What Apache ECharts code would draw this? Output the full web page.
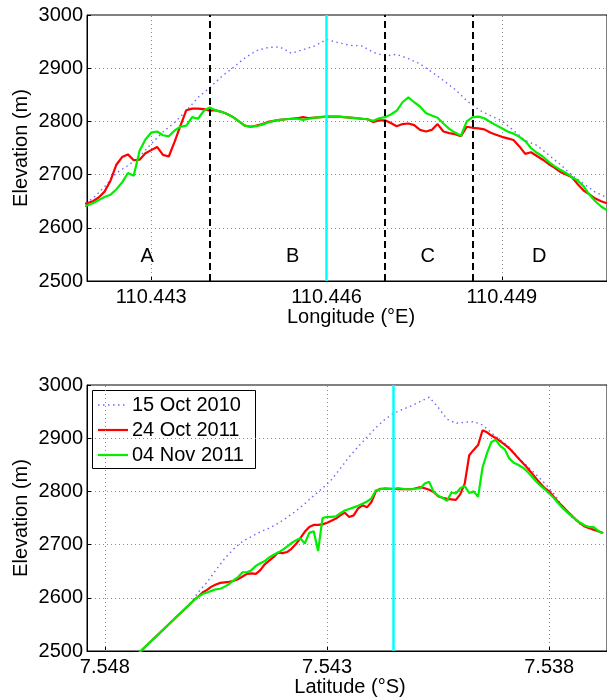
<!DOCTYPE html>
<html>
<head>
<meta charset="utf-8">
<script src="https://cdn.jsdelivr.net/npm/echarts@6/dist/echarts.min.js"></script>
<style>
  html, body { margin: 0; padding: 0; background: #fff; }
  #chart { width: 607px; height: 700px; }
</style>
</head>
<body>
<div id="chart"></div>
<script>
// ---- Elevation profiles across the summit ----
const seriesNames = ['15 Oct 2010', '24 Oct 2011', '04 Nov 2011'];

// Longitude profile (top panel)
const topLon = [
  110.4418,110.4419,110.4420,110.4421,110.4422,110.4423,110.4424,110.4425,110.4426,110.4427,
  110.4428,110.4429,110.4430,110.4431,110.4432,110.4433,110.4434,110.4435,110.4436,110.4437,
  110.4438,110.4439,110.4440,110.4441,110.4442,110.4443,110.4444,110.4445,110.4446,110.4447,
  110.4448,110.4449,110.4450,110.4451,110.4452,110.4453,110.4454,110.4455,110.4456,110.4457,
  110.4458,110.4459,110.4460,110.4461,110.4462,110.4463,110.4464,110.4465,110.4466,110.4467,
  110.4468,110.4469,110.4470,110.4471,110.4472,110.4473,110.4474,110.4475,110.4476,110.4477,
  110.4478,110.4479,110.4480,110.4481,110.4482,110.4483,110.4484,110.4485,110.4486,110.4487,
  110.4488,110.4489,110.4490,110.4491,110.4492,110.4493,110.4494,110.4495,110.4496,110.4497,
  110.4498,110.4499,110.4500,110.4501,110.4502,110.4503,110.4504,110.4505,110.4506,110.4507,
  110.4508
];
const topRed = [
  2645,2646,2650,2657,2668,2688,2718,2733,2738,2727,
  2728,2740,2746,2752,2737,2734,2762,2792,2821,2824,
  2824,2823,2820,2821,2818,2814,2808,2800,2792,2790,
  2792,2795,2799,2801,2803,2804,2805,2806,2808,2806,
  2807,2808,2809,2809,2809,2808,2807,2806,2805,2804,
  2799,2802,2802,2797,2791,2795,2796,2793,2784,2781,
  2784,2795,2781,2778,2776,2772,2790,2788,2787,2785,
  2779,2775,2771,2768,2765,2753,2739,2742,2735,2728,
  2720,2713,2705,2700,2695,2682,2670,2663,2655,2650,
  2646
];
const topGreen = [
  2639,2642,2646,2652,2658,2662,2672,2685,2703,2698,
  2745,2766,2779,2781,2774,2772,2783,2790,2792,2808,
  2805,2820,2826,2821,2818,2814,2808,2800,2792,2790,
  2791,2794,2798,2801,2803,2804,2805,2805,2803,2805,
  2807,2808,2809,2809,2809,2808,2807,2806,2805,2804,
  2801,2806,2808,2813,2820,2836,2845,2836,2828,2816,
  2811,2807,2796,2786,2779,2773,2800,2808,2809,2806,
  2799,2793,2787,2781,2777,2771,2763,2750,2741,2734,
  2724,2716,2709,2703,2695,2689,2678,2662,2650,2640,
  2633
];
const topLonBlue = [
  110.4418,110.4420,110.4422,110.4424,110.4426,110.4428,110.4430,110.4432,110.4434,110.4436,
  110.4438,110.4440,110.4442,110.4444,110.4446,110.4448,110.4450,110.4452,110.4454,110.4456,
  110.4458,110.4460,110.4462,110.4464,110.4466,110.4468,110.4470,110.4472,110.4474,110.4476,
  110.4478,110.4480,110.4482,110.4484,110.4486,110.4488,110.4490,110.4492,110.4494,110.4496,
  110.4498,110.4500,110.4502,110.4504,110.4506,110.4508
];
const topBlue = [
  2643,2655,2677,2703,2717,2734,2758,2780,2798,2820,
  2845,2863,2884,2901,2919,2933,2939,2940,2928,2935,
  2942,2954,2948,2943,2942,2930,2923,2926,2918,2908,
  2893,2877,2860,2839,2822,2811,2801,2783,2764,2755,
  2737,2719,2699,2683,2667,2657
];

// Latitude profile (bottom panel)
const botLat = [
  7.5473,7.5472,7.5471,7.5470,7.5469,7.5468,7.5467,7.5466,7.5465,7.5464,
  7.5463,7.5462,7.5461,7.5460,7.5459,7.5458,7.5457,7.5456,7.5455,7.5454,
  7.5453,7.5452,7.5451,7.5450,7.5449,7.5448,7.5447,7.5446,7.5445,7.5444,
  7.5443,7.5442,7.5441,7.5440,7.5439,7.5438,7.5437,7.5436,7.5435,7.5434,
  7.5433,7.5432,7.5431,7.5430,7.5429,7.5428,7.5427,7.5426,7.5425,7.5424,
  7.5423,7.5422,7.5421,7.5420,7.5419,7.5418,7.5417,7.5416,7.5415,7.5414,
  7.5413,7.5412,7.5411,7.5410,7.5409,7.5408,7.5407,7.5406,7.5405,7.5404,
  7.5403,7.5402,7.5401,7.5400,7.5399,7.5398,7.5397,7.5396,7.5395,7.5394,
  7.5393,7.5392,7.5391,7.5390,7.5389,7.5388,7.5387,7.5386,7.5385,7.5384,
  7.5383,7.5382,7.5381,7.5380,7.5379,7.5378,7.5377,7.5376,7.5375,7.5374,
  7.5373,7.5372,7.5371,7.5370,7.5369,7.5368
];
const botRed = [
  2491,2499,2507,2515,2523,2531,2539,2547,2555,2563,
  2571,2579,2587,2595,2602,2610,2615,2621,2625,2628,
  2629,2630,2632,2635,2640,2645,2646,2645,2652,2663,
  2670,2677,2685,2684,2686,2692,2701,2712,2724,2733,
  2737,2737,2738,2741,2745,2749,2755,2760,2752,2755,
  2768,2774,2770,2780,2800,2805,2805,2805,2805,2804,
  2804,2804,2804,2806,2808,2806,2803,2799,2791,2788,
  2786,2785,2784,2795,2815,2868,2878,2887,2915,2911,
  2905,2900,2894,2888,2881,2872,2863,2854,2845,2835,
  2825,2815,2806,2800,2790,2780,2772,2763,2755,2747,
  2740,2734,2731,2728,2725,2722
];
const botGreen = [
  2491,2499,2507,2515,2523,2531,2539,2547,2555,2563,
  2571,2579,2587,2595,2602,2607,2610,2613,2616,2617,
  2621,2626,2633,2639,2648,2648,2652,2660,2665,2669,
  2676,2681,2685,2690,2696,2703,2708,2712,2702,2722,
  2725,2688,2750,2752,2752,2753,2759,2764,2767,2770,
  2773,2777,2781,2787,2802,2804,2806,2805,2805,2806,
  2805,2804,2804,2805,2806,2815,2818,2799,2792,2788,
  2782,2798,2796,2806,2810,2797,2800,2790,2845,2872,
  2893,2897,2885,2879,2862,2854,2850,2845,2838,2829,
  2819,2811,2804,2796,2788,2778,2769,2761,2754,2747,
  2741,2736,2733,2733,2726,2721
];
const botLatBlue = [
  7.5473,7.5471,7.5469,7.5467,7.5465,7.5463,7.5461,7.5459,7.5457,7.5455,
  7.5453,7.5451,7.5449,7.5447,7.5445,7.5443,7.5441,7.5439,7.5437,7.5435,
  7.5433,7.5431,7.5429,7.5427,7.5425,7.5423,7.5421,7.5419,7.5417,7.5415,
  7.5413,7.5411,7.5409,7.5407,7.5405,7.5403,7.5401,7.5399,7.5397,7.5395,
  7.5393,7.5391,7.5389,7.5387,7.5385,7.5383,7.5381,7.5379,7.5377,7.5375,
  7.5373,7.5371,7.5369,7.5367
];
const botBlue = [
  2491,2507,2523,2539,2555,2571,2587,2610,2629,2652,
  2674,2692,2706,2715,2724,2731,2740,2751,2763,2777,
  2792,2806,2822,2843,2865,2884,2902,2920,2935,2947,
  2954,2961,2969,2977,2958,2936,2928,2930,2931,2925,
  2910,2897,2883,2864,2848,2832,2815,2796,2772,2752,
  2738,2730,2725,2720
];

// Axis ticks, section boundaries and labels
const lonTicks = [110.443, 110.446, 110.449];
const latTicks = [7.548, 7.543, 7.538];
const elevTicks = { min: 2500, max: 3000, step: 100 };
const sectionBounds = [110.4440, 110.4470, 110.4485];
const topCyanLon = 110.4460;
const botCyanLat = 7.5415;
const sectionNames = ['A', 'B', 'C', 'D'];
const sectionLon = [110.44293, 110.44542, 110.44773, 110.44964];
const sectionElev = 2547;

const FONT = "'Liberation Sans', Arial, Helvetica, sans-serif";
const colBlue = '#6a6aff', colRed = '#ff0000', colGreen = '#00ee00', colCyan = '#00ffff';
const blueDash = [1.5, 3.5];
const gridDots = { color: '#8c8c8c', width: 1, type: [1, 3] };

const pairs = (xs, ys) => xs.map((x, i) => [x, ys[i]]);

function profile(name, xs, ys, color, width, type, axis, extra) {
  return Object.assign({
    name, type: 'line', xAxisIndex: axis, yAxisIndex: axis,
    data: pairs(xs, ys), showSymbol: false, symbol: 'none',
    lineStyle: { color, width, type }, itemStyle: { color },
    clip: true, silent: true
  }, extra || {});
}

// vertical reference lines; precision kept high so the positions are not rounded
function vLines(items, z) {
  return {
    z, silent: true, precision: 6, symbol: ['none', 'none'], label: { show: false },
    data: items.map(it => ({ xAxis: it.v, lineStyle: it.style }))
  };
}
const gridMark = ticks => vLines(ticks.map(v => ({ v, style: gridDots })), 1);
const topFeatures = vLines(
  sectionBounds.map(v => ({ v, style: { color: '#000', width: 2, type: [7, 4] } }))
    .concat([{ v: topCyanLon, style: { color: colCyan, width: 2.5, type: 'solid' } }]), 6);
const botFeatures = vLines([{ v: botCyanLat, style: { color: colCyan, width: 2.5, type: 'solid' } }], 6);

function yAxis(gridIndex) {
  return {
    type: 'value', gridIndex, min: elevTicks.min, max: elevTicks.max, interval: elevTicks.step,
    axisLine: { show: true, lineStyle: { color: '#000', width: 1 } },
    axisTick: { show: true, inside: true, length: 4, lineStyle: { color: '#000' } },
    axisLabel: { fontSize: 20, color: '#000', fontFamily: FONT, margin: 4, formatter: v => String(v) },
    splitLine: { show: true, lineStyle: gridDots }
  };
}

function xAxis(gridIndex, min, max, ticks, inverse) {
  return {
    type: 'value', gridIndex, min, max, inverse,
    axisLine: { show: true, lineStyle: { color: '#000', width: 1 } },
    axisTick: { show: true, inside: true, length: 4, customValues: ticks, lineStyle: { color: '#000' } },
    axisLabel: { customValues: ticks, formatter: v => v.toFixed(3), fontSize: 20, color: '#000', fontFamily: FONT, margin: 6 },
    splitLine: { show: false }
  };
}

// legend box for the lower panel
const legendBox = { x: 92, y: 390, w: 163, h: 78, rowY: [405, 430, 455] };
const legendStyles = [
  { stroke: colBlue, lineWidth: 1.4, lineDash: blueDash },
  { stroke: colRed, lineWidth: 2.2 },
  { stroke: colGreen, lineWidth: 2.2 }
];
const legendGraphic = {
  type: 'group', z: 100,
  children: [
    { type: 'rect', shape: { x: legendBox.x + 0.5, y: legendBox.y + 0.5, width: legendBox.w, height: legendBox.h },
      style: { fill: '#fff', stroke: '#000', lineWidth: 1 } }
  ].concat(seriesNames.map((n, i) => ({
    type: 'line', shape: { x1: legendBox.x + 6, y1: legendBox.rowY[i], x2: legendBox.x + 36, y2: legendBox.rowY[i] },
    style: legendStyles[i]
  }))).concat(seriesNames.map((n, i) => ({
    type: 'text', x: legendBox.x + 40, y: legendBox.rowY[i],
    style: { text: n, fontSize: 20, fontFamily: FONT, fill: '#000', align: 'left', verticalAlign: 'middle' }
  })))
};

const axisTitle = (text, x, y, rot) => ({
  type: 'text', x, y, rotation: rot || 0,
  style: { text, fontSize: 20, fontFamily: FONT, fill: '#000', align: 'center', verticalAlign: 'middle' }
});

const option = {
  animation: false,
  backgroundColor: '#fff',
  textStyle: { fontFamily: FONT },
  grid: [
    { left: 87, top: 15, width: 528, height: 266, show: true, borderColor: '#000', borderWidth: 1, backgroundColor: '#fff' },
    { left: 87, top: 385, width: 528, height: 266, show: true, borderColor: '#000', borderWidth: 1, backgroundColor: '#fff' }
  ],
  xAxis: [
    xAxis(0, 110.4419, 110.4508, lonTicks, false),
    xAxis(1, 7.5367, 7.5484, latTicks, true)
  ],
  yAxis: [yAxis(0), yAxis(1)],
  graphic: [
    axisTitle('Longitude (°E)', 351, 317),
    axisTitle('Latitude (°S)', 350, 687),
    axisTitle('Elevation (m)', 21, 148, Math.PI / 2),
    axisTitle('Elevation (m)', 21, 518, Math.PI / 2),
    legendGraphic
  ],
  series: [
    profile(seriesNames[0], topLonBlue, topBlue, colBlue, 1.4, blueDash, 0, { markLine: gridMark(lonTicks) }),
    profile(seriesNames[1], topLon, topRed, colRed, 2.2, 'solid', 0),
    profile(seriesNames[2], topLon, topGreen, colGreen, 2.2, 'solid', 0, { markLine: topFeatures }),
    {
      type: 'scatter', xAxisIndex: 0, yAxisIndex: 0, silent: true, symbolSize: 1,
      itemStyle: { color: 'rgba(0,0,0,0)' },
      data: sectionLon.map((x, i) => [x, sectionElev, sectionNames[i]]),
      label: {
        show: true, position: 'inside', formatter: p => p.data[2],
        fontSize: 20, color: '#000', fontFamily: FONT, textBorderWidth: 0, opacity: 1
      }
    },
    profile(seriesNames[0], botLatBlue, botBlue, colBlue, 1.4, blueDash, 1, { markLine: gridMark(latTicks) }),
    profile(seriesNames[1], botLat, botRed, colRed, 2.2, 'solid', 1),
    profile(seriesNames[2], botLat, botGreen, colGreen, 2.2, 'solid', 1, { markLine: botFeatures })
  ]
};

const chart = echarts.init(document.getElementById('chart'), null, { renderer: 'canvas' });
chart.setOption(option);
</script>
</body>
</html>
